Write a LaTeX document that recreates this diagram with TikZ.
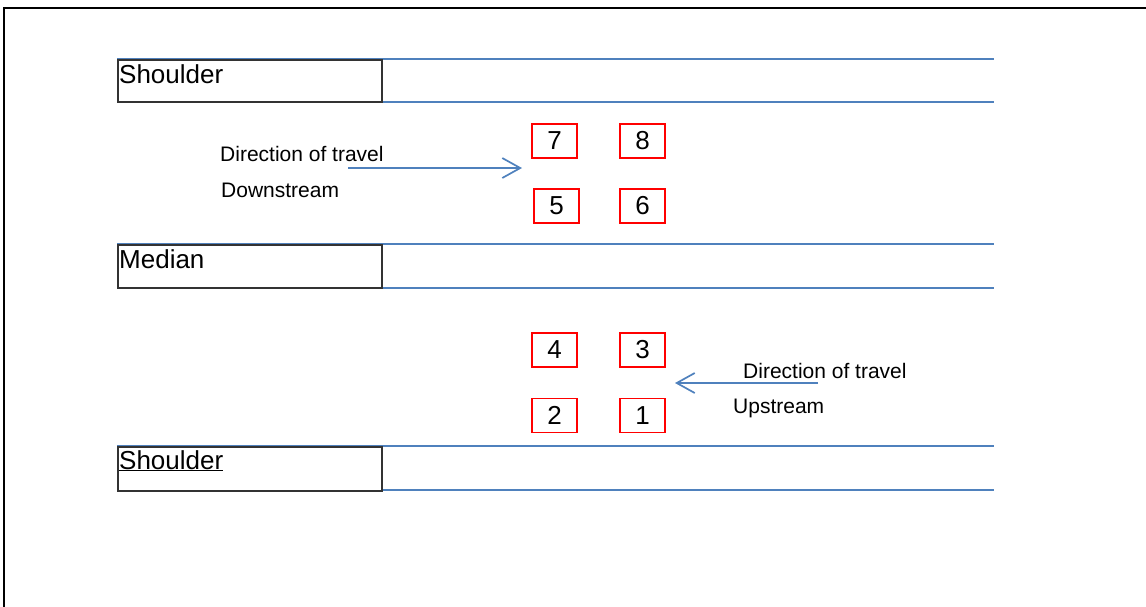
\documentclass[tikz,border=0pt]{standalone}
\usepackage{fontspec}
\setmainfont{Liberation Sans}
\usetikzlibrary{arrows.meta}
\definecolor{laneblue}{RGB}{79,129,189}
\tikzset{
    laneline/.style={draw=laneblue, line width=2pt},
    lanebox/.style={draw=black!80, line width=1.7pt, fill=white, minimum width=264pt, inner sep=0pt, anchor=north west},
    lanetext/.style={anchor=base west, inner sep=0pt, font=\fontsize{26}{30}\selectfont},
    bayno/.style={draw=red, line width=1.5pt, minimum width=45pt, minimum height=34pt, inner sep=0pt, font=\fontsize{26}{30}\selectfont},
    travel/.style={draw=laneblue, line width=1.7pt, -{Straight Barb[length=18pt, width=20pt]}},
    traveltext/.style={anchor=base west, inner sep=0pt, font=\fontsize{21}{25}\selectfont},
}
\begin{document}
\begin{tikzpicture}[x=1pt, y=-1pt]
    \newcommand\posL{117}
    \newcommand\posR{994}
    \newcommand\posA{554.5}
    \newcommand\posB{642.5}

    \useasboundingbox (0,0) rectangle (1146,606);
    \clip (0,0) rectangle (1146,606);
    \draw[line width=2pt] (4,8) rectangle (1160,620);

    % lane edges
    \draw[laneline] (\posL,59) -- (\posR,59);
    \draw[laneline] (\posL,102) -- (\posR,102);
    \draw[laneline] (\posL,244) -- (\posR,244);
    \draw[laneline] (\posL,288) -- (\posR,288);
    \draw[laneline] (\posL,446) -- (\posR,446);
    \draw[laneline] (\posL,490) -- (\posR,490);

    \node[lanebox, minimum height=42pt] (shtop) at (\posL,59){};
    \node[lanebox, minimum height=43pt] (median) at (\posL,244){};
    \node[lanebox, minimum height=44pt] (shbot) at (\posL,446){};
    \node[lanetext] (labshtop) at (119,83){Shoulder};
    \node[lanetext] (labmedian) at (119,268){Median};
    \node[lanetext] (labshbot) at (119,469){\underline{Shoulder}};

    % detector bays
    \node[bayno] (b7) at (\posA,141){7};
    \node[bayno] (b8) at (\posB,141){8};
    \node[bayno] (b5) at (556.5,206){5};
    \node[bayno] (b6) at (\posB,206){6};
    \node[bayno] (b4) at (\posA,350){4};
    \node[bayno] (b3) at (\posB,350){3};
    \node[bayno] (b2) at (\posA,415.5){2};
    \node[bayno] (b1) at (\posB,415.5){1};

    \coordinate (dnstart) at (348,168);
    \coordinate (dnend) at (522,168);
    \coordinate (upstart) at (818,383);
    \coordinate (upend) at (675,383);
    \draw[travel] (dnstart) -- (dnend);
    \draw[travel] (upstart) -- (upend);

    \node[traveltext] (dirdn) at (220,161){Direction of travel};
    \node[traveltext] (labdn) at (221,197){Downstream};
    \node[traveltext] (dirup) at (743,378){Direction of travel};
    \node[traveltext] (labup) at (733,413){Upstream};
\end{tikzpicture}
\end{document}
